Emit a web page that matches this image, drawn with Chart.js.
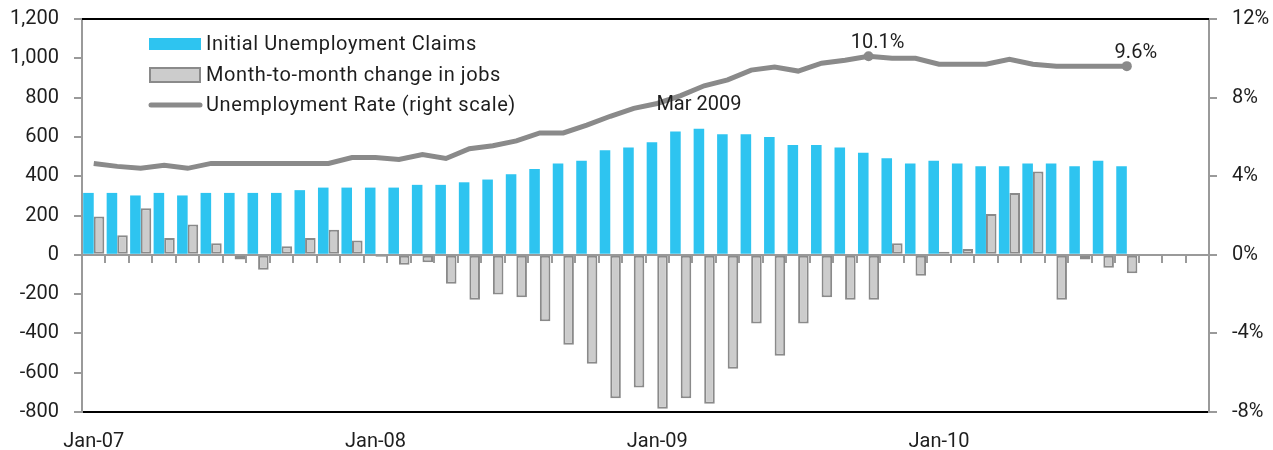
<!DOCTYPE html>
<html>
<head>
<meta charset="utf-8">
<script src="https://cdn.jsdelivr.net/npm/chart.js@4.4.0/dist/chart.umd.min.js"></script>
<style>
  html, body { margin: 0; padding: 0; background: #fff; }
  #wrap { width: 1273px; height: 450px; position: relative; }
</style>
</head>
<body>
<div id="wrap"><canvas id="chart"></canvas></div>
<script>
const months = [
  'Jan-07','Feb-07','Mar-07','Apr-07','May-07','Jun-07','Jul-07','Aug-07','Sep-07','Oct-07','Nov-07','Dec-07',
  'Jan-08','Feb-08','Mar-08','Apr-08','May-08','Jun-08','Jul-08','Aug-08','Sep-08','Oct-08','Nov-08','Dec-08',
  'Jan-09','Feb-09','Mar-09','Apr-09','May-09','Jun-09','Jul-09','Aug-09','Sep-09','Oct-09','Nov-09','Dec-09',
  'Jan-10','Feb-10','Mar-10','Apr-10','May-10','Jun-10','Jul-10','Aug-10','Sep-10','Oct-10','Nov-10','Dec-10'
];

// thousands, weekly average per month
const initialClaims = [
  315, 315, 302, 315, 302, 315, 315, 315, 315, 329, 342, 342,
  342, 342, 356, 356, 369, 383, 410, 437, 464, 478, 532, 546,
  573, 627, 641, 613, 613, 600, 559, 559, 546, 519, 491, 464,
  478, 464, 451, 451, 464, 464, 451, 478, 451, null, null, null
];

// thousands of jobs
const jobChange = [
  195, 100, 237, 86, 154, 59, -24, -76, 44, 86, 127, 73,
  -10, -51, -38, -147, -229, -202, -216, -338, -458, -555, -730, -675,
  -783, -730, -758, -580, -349, -514, -349, -216, -229, -229, 59, -107,
  16, 30, 208, 315, 424, -229, -24, -66, -94, null, null, null
];

// percent
const unemploymentRate = [
  4.65, 4.5, 4.4, 4.55, 4.4, 4.65, 4.65, 4.65, 4.65, 4.65, 4.65, 4.95,
  4.95, 4.85, 5.1, 4.9, 5.4, 5.55, 5.8, 6.2, 6.2, 6.6, 7.05, 7.45,
  7.7, 8.1, 8.6, 8.9, 9.4, 9.55, 9.35, 9.75, 9.9, 10.1, 10.0, 10.0,
  9.7, 9.7, 9.7, 9.95, 9.7, 9.6, 9.6, 9.6, 9.6, null, null, null
];

const leftTicks = [-800, -600, -400, -200, 0, 200, 400, 600, 800, 1000, 1200];
const rightTicks = [-8, -4, 0, 4, 8, 12];

const rateLabelIdx = [33, 44];
const claimsNoteIdx = 26;
const claimsNote = 'Mar 2009';

const FONT = 'Roboto, "DejaVu Sans", sans-serif';
const TEXT = '#1e1e1e';
const BLUE = '#2ec4f0';
const GREY_FILL = '#cccccc';
const GREY_LINE = '#8a8a8a';
const AXIS = '#9a9a9a';

Chart.defaults.font.family = FONT;
Chart.defaults.font.size = 20;
Chart.defaults.color = TEXT;

// frame: top border, zero line and the little ticks under it
const framePlugin = {
  id: 'frame',
  beforeDatasetsDraw(chart) {
    const { ctx, chartArea, scales } = chart;
    const y0 = Math.round(scales.y.getPixelForValue(0));
    ctx.save();
    ctx.strokeStyle = '#000';
    ctx.lineWidth = 2;
    ctx.beginPath();
    ctx.moveTo(chartArea.left, chartArea.top);
    ctx.lineTo(chartArea.right, chartArea.top);
    ctx.stroke();

    ctx.strokeStyle = AXIS;
    ctx.lineWidth = 2;
    ctx.beginPath();
    ctx.moveTo(chartArea.left, y0);
    ctx.lineTo(chartArea.right, y0);
    for (let i = 1; i < months.length; i++) {
      const x = Math.round((scales.x.getPixelForValue(i - 1) + scales.x.getPixelForValue(i)) / 2);
      ctx.moveTo(x, y0);
      ctx.lineTo(x, y0 + 8);
    }
    ctx.stroke();
    ctx.restore();
  }
};

const notesPlugin = {
  id: 'notes',
  afterDatasetsDraw(chart) {
    const { ctx } = chart;
    ctx.save();
    ctx.font = '20px ' + FONT;
    ctx.fillStyle = TEXT;
    ctx.textAlign = 'center';
    ctx.textBaseline = 'alphabetic';

    const rateMeta = chart.getDatasetMeta(2);
    rateLabelIdx.forEach(i => {
      const p = rateMeta.data[i];
      ctx.fillText(unemploymentRate[i].toFixed(1) + '%', p.x + 9, p.y - 8);
    });

    const bar = chart.getDatasetMeta(0).data[claimsNoteIdx];
    ctx.fillText(claimsNote, bar.x, bar.y - 19);
    ctx.restore();
  }
};

const legendPlugin = {
  id: 'customLegend',
  afterDraw(chart) {
    const { ctx, chartArea } = chart;
    const x = chartArea.left + 67;
    const rows = [44, 75, 105];
    ctx.save();
    ctx.fillStyle = BLUE;
    ctx.fillRect(x, rows[0] - 6, 52, 12);

    ctx.fillStyle = GREY_FILL;
    ctx.strokeStyle = GREY_LINE;
    ctx.lineWidth = 2;
    ctx.fillRect(x + 1, rows[1] - 7, 50, 14);
    ctx.strokeRect(x + 1, rows[1] - 7, 50, 14);

    ctx.strokeStyle = GREY_LINE;
    ctx.lineWidth = 5;
    ctx.lineCap = 'round';
    ctx.beginPath();
    ctx.moveTo(x + 2, rows[2]);
    ctx.lineTo(x + 51, rows[2]);
    ctx.stroke();

    ctx.font = '20px ' + FONT;
    ctx.letterSpacing = '0.6px';
    ctx.fillStyle = TEXT;
    ctx.textAlign = 'left';
    ctx.textBaseline = 'middle';
    chart.data.datasets.forEach((ds, i) => {
      ctx.fillText(ds.label, x + 57, rows[i] + 1);
    });
    ctx.restore();
  }
};

const fitY = width => s => {
  s.width = width;
  s.paddingTop = 0;
  s.paddingBottom = 0;
};

new Chart(document.getElementById('chart'), {
  data: {
    labels: months,
    datasets: [
      {
        type: 'bar',
        label: 'Initial Unemployment Claims',
        data: initialClaims,
        backgroundColor: BLUE,
        borderWidth: 0,
        yAxisID: 'y',
        order: 1
      },
      {
        type: 'bar',
        label: 'Month-to-month change in jobs',
        data: jobChange,
        backgroundColor: GREY_FILL,
        borderColor: GREY_LINE,
        borderWidth: 2,
        borderSkipped: false,
        yAxisID: 'y',
        order: 2
      },
      {
        type: 'line',
        label: 'Unemployment Rate (right scale)',
        data: unemploymentRate,
        borderColor: GREY_LINE,
        borderWidth: 5,
        tension: 0,
        pointRadius: unemploymentRate.map((v, i) => rateLabelIdx.includes(i) ? 5 : 0),
        pointBackgroundColor: GREY_LINE,
        pointBorderWidth: 0,
        yAxisID: 'y1',
        order: 0
      }
    ]
  },
  options: {
    responsive: true,
    maintainAspectRatio: false,
    animation: false,
    layout: { padding: { top: 19, left: 0, right: 0, bottom: 0 } },
    datasets: {
      bar: { categoryPercentage: 0.9, barPercentage: 1.0 }
    },
    plugins: {
      legend: { display: false },
      tooltip: { enabled: false }
    },
    scales: {
      x: {
        grid: { display: false },
        border: { display: true, color: '#000', width: 2 },
        ticks: {
          autoSkip: false,
          maxRotation: 0,
          padding: 10,
          callback: (v, i) => (i % 12 === 0 ? months[i] : '')
        },
        afterFit: s => { s.height = 38; s.paddingLeft = 0; s.paddingRight = 0; }
      },
      y: {
        position: 'left',
        min: leftTicks[0],
        max: leftTicks[leftTicks.length - 1],
        afterBuildTicks: s => { s.ticks = leftTicks.map(v => ({ value: v })); },
        grid: { drawOnChartArea: false, drawTicks: true, tickLength: 8, color: AXIS, lineWidth: 2 },
        border: { color: AXIS, width: 2 },
        ticks: {
          padding: 15,
          callback: v => v.toLocaleString('en-US')
        },
        afterFit: fitY(82)
      },
      y1: {
        position: 'right',
        min: rightTicks[0],
        max: rightTicks[rightTicks.length - 1],
        afterBuildTicks: s => { s.ticks = rightTicks.map(v => ({ value: v })); },
        grid: { drawOnChartArea: false, drawTicks: true, tickLength: 8, color: AXIS, lineWidth: 2 },
        border: { color: AXIS, width: 2 },
        ticks: {
          padding: 15,
          callback: v => v + '%'
        },
        afterFit: fitY(64)
      }
    }
  },
  plugins: [framePlugin, notesPlugin, legendPlugin]
});
</script>
</body>
</html>
